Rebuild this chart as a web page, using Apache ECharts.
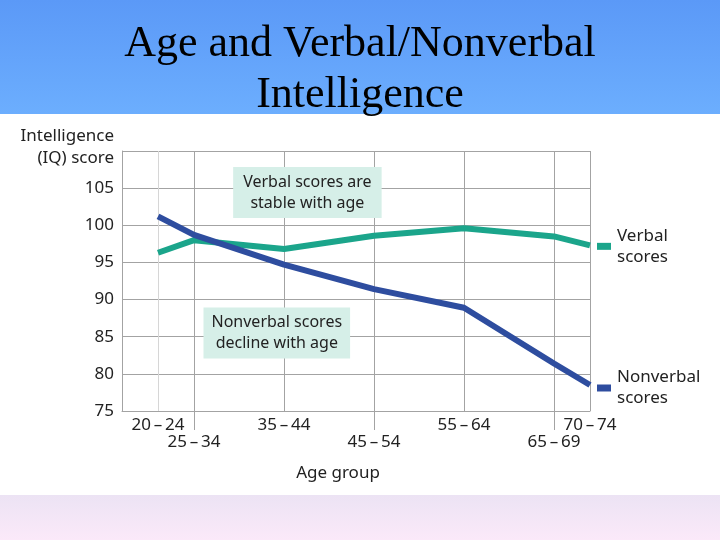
<!DOCTYPE html>
<html><head><meta charset="utf-8">
<script src="https://cdn.jsdelivr.net/npm/echarts@6/dist/echarts.min.js"></script>
<style>html,body{margin:0;padding:0;background:#fff}#c{width:720px;height:540px}</style>
</head><body><div id="c"></div>
<script>
// Age groups and the position (representative age) of each along the x axis
const ageGroups = ['20–24', '25–34', '35–44', '45–54', '55–64', '65–69', '70–74'];
const agePositions = [22, 26, 36, 46, 56, 66, 70];
const lowerRowGroups = ['25–34', '45–54', '65–69'];
// Scores
const verbalScores = [96.3, 98.0, 96.8, 98.6, 99.6, 98.5, 97.3];
const nonverbalScores = [101.2, 98.7, 94.7, 91.4, 88.9, 81.4, 78.5];
const yTicks = [75, 80, 85, 90, 95, 100, 105];

const FONT = 'Noto Sans';
const TXT = '#222222';
const GRIDC = '#a3a3a3';

const verbalPts = agePositions.map((x, i) => [x, verbalScores[i]]);
const nonverbalPts = agePositions.map((x, i) => [x, nonverbalScores[i]]);
const upperPositions = agePositions.filter((x, i) => !lowerRowGroups.includes(ageGroups[i]));
const lowerPositions = agePositions.filter((x, i) => lowerRowGroups.includes(ageGroups[i]));
const last = agePositions.length - 1;
const fmtAge = v => ageGroups[agePositions.indexOf(v)].replace('–', '\u2009–\u2009');

const baseX = {
  type: 'value', min: 18, max: 70, position: 'bottom',
  splitLine: {show: false}
};

const chart = echarts.init(document.getElementById('c'), null, {renderer: 'canvas'});
chart.setOption({
  animation: false,
  backgroundColor: '#ffffff',
  graphic: [
    {type: 'rect', z: -10, silent: true, shape: {x: 0, y: 0, width: 720, height: 114},
      style: {fill: new echarts.graphic.LinearGradient(0, 0, 0, 1, [
        {offset: 0, color: '#5b99f7'}, {offset: 1, color: '#6caefe'}])}},
    {type: 'rect', z: -10, silent: true, shape: {x: 0, y: 495, width: 720, height: 45},
      style: {fill: new echarts.graphic.LinearGradient(0, 0, 0, 1, [
        {offset: 0, color: '#ece3f4'}, {offset: 1, color: '#fbe9f9'}])}}
  ],
  title: {
    text: 'Age and Verbal/Nonverbal\nIntelligence',
    left: 'center', top: 14,
    textStyle: {fontFamily: 'Liberation Serif', fontSize: 44, fontWeight: 'normal', color: '#000', lineHeight: 51}
  },
  grid: {left: 122, right: 130, top: 151, bottom: 129, containLabel: false},
  xAxis: [
    Object.assign({}, baseX, {
      name: 'Age group', nameLocation: 'middle', nameGap: 54,
      nameTextStyle: {fontFamily: FONT, fontSize: 17, color: TXT, padding: [0, 36, 0, 0]},
      axisLine: {show: true, lineStyle: {color: GRIDC, width: 1}},
      axisTick: {show: false},
      axisLabel: {customValues: upperPositions, margin: 6, hideOverlap: false, showMinLabel: true, showMaxLabel: true,
        fontFamily: FONT, fontSize: 17, color: TXT, formatter: fmtAge}
    }),
    Object.assign({}, baseX, {
      axisLine: {show: false},
      axisTick: {show: true, customValues: lowerPositions, length: 19, lineStyle: {color: GRIDC}},
      axisLabel: {customValues: lowerPositions, margin: 23, hideOverlap: false,
        fontFamily: FONT, fontSize: 17, color: TXT, formatter: fmtAge}
    })
  ],
  yAxis: {
    type: 'value', min: 75, max: 110, interval: 5,
    name: 'Intelligence\n(IQ) score', nameLocation: 'end', nameGap: 4,
    nameTextStyle: {fontFamily: FONT, fontSize: 17, color: TXT, align: 'right', verticalAlign: 'middle', lineHeight: 22, padding: [0, 8, 0, 0]},
    axisLine: {show: true, lineStyle: {color: GRIDC, width: 1}},
    axisTick: {show: false},
    splitLine: {show: true, lineStyle: {color: GRIDC, width: 1}},
    axisLabel: {
      margin: 8, fontFamily: FONT, fontSize: 17, color: TXT,
      formatter: v => yTicks.includes(v) ? String(v) : ''
    }
  },
  series: [
    {
      name: 'Verbal scores', type: 'line', data: verbalPts, z: 3, xAxisIndex: 0,
      symbol: 'none', lineStyle: {color: '#1ba58b', width: 6}, itemStyle: {color: '#1ba58b'},
      markLine: {
        silent: true, z: 1, symbol: ['none', 'none'], label: {show: false},
        data: agePositions.map((x, i) => ({xAxis: x, lineStyle: {color: i === 0 ? '#d6d6d6' : GRIDC, width: 1, type: 'solid'}}))
      },
      markPoint: {
        silent: true, z: 6,
        data: [
          {coord: [38.6, 104.4], symbol: 'rect', symbolSize: 0,
            label: {show: true, position: 'inside', formatter: 'Verbal scores are\nstable with age',
              fontFamily: FONT, fontSize: 16, color: TXT, lineHeight: 21, align: 'center', verticalAlign: 'middle',
              backgroundColor: '#d6efe8', padding: [5, 10, 4, 10]}},
          {coord: [verbalPts[last][0], verbalPts[last][1]], symbol: 'rect', symbolSize: [14, 7], symbolOffset: [14, 1],
            itemStyle: {color: '#1ba58b'},
            label: {show: true, position: 'right', distance: 6, formatter: 'Verbal\nscores',
              fontFamily: FONT, fontSize: 17, color: TXT, lineHeight: 21}}
        ]
      }
    },
    {
      name: 'Nonverbal scores', type: 'line', data: nonverbalPts, z: 3, xAxisIndex: 0,
      symbol: 'none', lineStyle: {color: '#2e4d9f', width: 6}, itemStyle: {color: '#2e4d9f'},
      markPoint: {
        silent: true, z: 6,
        data: [
          {coord: [35.2, 85.5], symbol: 'rect', symbolSize: 0,
            label: {show: true, position: 'inside', formatter: 'Nonverbal scores\ndecline with age',
              fontFamily: FONT, fontSize: 16, color: TXT, lineHeight: 21, align: 'center', verticalAlign: 'middle',
              backgroundColor: '#d6efe8', padding: [5, 8, 4, 8]}},
          {coord: [nonverbalPts[last][0], nonverbalPts[last][1]], symbol: 'rect', symbolSize: [14, 7], symbolOffset: [14, 3],
            itemStyle: {color: '#2e4d9f'},
            label: {show: true, position: 'right', distance: 6, formatter: 'Nonverbal\nscores',
              fontFamily: FONT, fontSize: 17, color: TXT, lineHeight: 21}}
        ]
      }
    }
  ]
});
</script></body></html>
